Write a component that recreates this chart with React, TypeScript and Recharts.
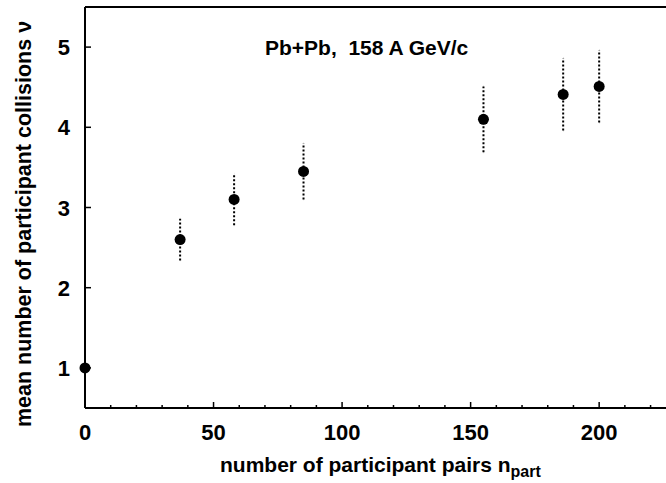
import React from "react";
import { ScatterChart, Scatter, XAxis, YAxis, ErrorBar, Customized } from "recharts";

const nPart = [0, 37, 58, 85, 155, 186, 200];
const nuMean = [1.0, 2.6, 3.1, 3.45, 4.1, 4.41, 4.51];
const nuErr = [0, 0.26, 0.32, 0.35, 0.41, 0.45, 0.45];

const xTicks = [0, 10, 20, 30, 40, 50, 60, 70, 80, 90, 100, 110, 120, 130, 140, 150, 160, 170, 180, 190, 200, 210, 220];
const yTicks = [1, 2, 3, 4, 5];

const title = "Pb+Pb,  158 A GeV/c";
const xLabel = "number of participant pairs n";
const xLabelSub = "part";
const yLabel = "mean number of participant collisions \u03bd";

const data = nPart.map((x, i) => ({ x, y: nuMean[i], err: nuErr[i] }));

const FONT = "'Liberation Sans', Arial, Helvetica, sans-serif";

const BottomTick = (props: any) => {
  const { x, y, payload } = props;
  const major = payload.value % 50 === 0;
  return (
    <g>
      <line x1={x} x2={x} y1={y} y2={y - (major ? 6 : 3)} stroke="#000" strokeWidth={1.5} />
      {major && (
        <text x={x} y={y + 32} textAnchor="middle" fontFamily={FONT} fontWeight="bold" fontSize={22} fill="#000">
          {payload.value}
        </text>
      )}
    </g>
  );
};

const TopTick = (props: any) => {
  const { x, y, payload } = props;
  const major = payload.value % 50 === 0;
  return <line x1={x} x2={x} y1={y} y2={y + (major ? 6 : 3)} stroke="#000" strokeWidth={1.5} />;
};

const LeftTick = (props: any) => {
  const { x, y, payload } = props;
  return (
    <g>
      <line x1={x} x2={x + 6} y1={y} y2={y} stroke="#000" strokeWidth={1.5} />
      <text x={x - 15} y={y + 8} textAnchor="end" fontFamily={FONT} fontWeight="bold" fontSize={22} fill="#000">
        {payload.value}
      </text>
    </g>
  );
};

const Dot = (props: any) => <circle cx={props.cx} cy={props.cy} r={5.5} fill="#000" />;

const Texts = () => (
  <g>
    <text x={265} y={55} fontFamily={FONT} fontWeight="bold" fontSize={21} fill="#000" style={{ whiteSpace: "pre" }}>
      {title}
    </text>
    <text x={220} y={472} fontFamily={FONT} fontWeight="bold" fontSize={21} fill="#000">
      <tspan>{xLabel}</tspan>
      <tspan dy={5} fontSize={16}>{xLabelSub}</tspan>
    </text>
    <text
      x={31}
      y={224}
      transform="rotate(-90 31 224)"
      textAnchor="middle"
      fontFamily={FONT}
      fontWeight="bold"
      fontSize={21.5}
      fill="#000"
    >
      {yLabel}
    </text>
  </g>
);

export default function App() {
  return (
    <div style={{ position: "absolute", left: 0, top: 0, width: 666, height: 483, overflow: "hidden", background: "#fff" }}>
      <ScatterChart width={666} height={483} margin={{ top: 6, right: 0, bottom: 74, left: 0 }}>
        <XAxis
          xAxisId={0}
          type="number"
          dataKey="x"
          domain={[0, 226]}
          ticks={xTicks}
          height={1}
          tickSize={0}
          tickMargin={0}
          tick={<BottomTick />}
          axisLine={{ stroke: "#000", strokeWidth: 2 }}
          tickLine={false}
          interval={0}
        />
        <XAxis
          xAxisId="top"
          orientation="top"
          type="number"
          domain={[0, 226]}
          ticks={xTicks}
          height={1}
          tickSize={0}
          tickMargin={0}
          tick={<TopTick />}
          axisLine={{ stroke: "#000", strokeWidth: 2 }}
          tickLine={false}
          interval={0}
        />
        <YAxis
          type="number"
          dataKey="y"
          domain={[0.5, 5.5]}
          ticks={yTicks}
          width={85}
          tickSize={0}
          tickMargin={0}
          tick={<LeftTick />}
          axisLine={{ stroke: "#000", strokeWidth: 2 }}
          tickLine={false}
          interval={0}
        />
        <Scatter data={data} isAnimationActive={false} shape={<Dot />}>
          <ErrorBar dataKey="err" direction="y" width={0} stroke="#000" strokeWidth={2} strokeDasharray="2 2" />
        </Scatter>
        <Customized component={<Texts />} />
      </ScatterChart>
    </div>
  );
}
